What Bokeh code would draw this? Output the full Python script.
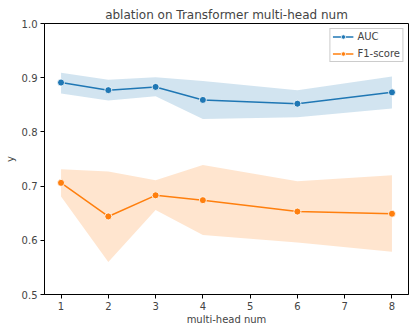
from bokeh.plotting import figure
from bokeh.models import Range1d, FixedTicker, PrintfTickFormatter, Legend, LegendItem
from bokeh.embed import file_html
from bokeh.resources import INLINE

heads = [1, 2, 3, 4, 6, 8]
auc_mean = [0.891, 0.877, 0.883, 0.859, 0.852, 0.873]
auc_low = [0.871, 0.858, 0.866, 0.824, 0.827, 0.843]
auc_high = [0.909, 0.896, 0.901, 0.894, 0.877, 0.902]
f1_mean = [0.706, 0.644, 0.683, 0.674, 0.653, 0.649]
f1_low = [0.681, 0.560, 0.656, 0.610, 0.596, 0.579]
f1_high = [0.731, 0.727, 0.711, 0.739, 0.709, 0.720]
x_ticks = [1, 2, 3, 4, 5, 6, 7, 8]
y_ticks = [0.5, 0.6, 0.7, 0.8, 0.9, 1.0]

BLUE = "#1f77b4"
ORANGE = "#ff7f0e"
FONT = "DejaVu Sans"

p = figure(frame_width=364, frame_height=271, output_backend="svg", toolbar_location=None,
           x_range=Range1d(0.65, 8.35), y_range=Range1d(0.5, 1.0),
           title="ablation on Transformer multi-head num",
           min_border_left=44, min_border_right=7, min_border_top=23, min_border_bottom=38)

p.title.align = "center"
p.title.text_font = FONT
p.title.text_font_size = "12px"
p.title.text_font_style = "normal"
p.title.standoff = 4
p.title.offset = 0

p.xgrid.visible = False
p.ygrid.visible = False
p.outline_line_color = "black"
p.outline_line_width = 1

for ax in (p.xaxis[0], p.yaxis[0]):
    ax.major_label_text_font = FONT
    ax.major_label_text_font_size = "10px"
    ax.axis_label_text_font = FONT
    ax.axis_label_text_font_size = "10px"
    ax.axis_label_text_font_style = "normal"
    ax.major_tick_in = 0
    ax.major_tick_out = 4
    ax.minor_tick_line_color = None
    ax.major_label_standoff = 3
    ax.axis_label_standoff = 3
p.xaxis[0].axis_label_standoff = 1

p.xaxis.ticker = FixedTicker(ticks=x_ticks)
p.yaxis.ticker = FixedTicker(ticks=y_ticks)
p.yaxis.formatter = PrintfTickFormatter(format="%.1f")
p.xaxis.axis_label = "multi-head num"
p.yaxis.axis_label = "y"

p.varea(x=heads, y1=auc_low, y2=auc_high, fill_color=BLUE, fill_alpha=0.2)
p.varea(x=heads, y1=f1_low, y2=f1_high, fill_color=ORANGE, fill_alpha=0.2)

l1 = p.line(heads, auc_mean, line_color=BLUE, line_width=1.5)
s1 = p.scatter(heads, auc_mean, size=7, fill_color=BLUE, line_color="white", line_width=0.8)
l2 = p.line(heads, f1_mean, line_color=ORANGE, line_width=1.5)
s2 = p.scatter(heads, f1_mean, size=7, fill_color=ORANGE, line_color="white", line_width=0.8)

legend = Legend(items=[LegendItem(label="AUC", renderers=[l1, s1]),
                       LegendItem(label="F1-score", renderers=[l2, s2])],
                location="top_right")
legend.label_text_font = FONT
legend.label_text_font_size = "10px"
legend.border_line_color = "#cccccc"
legend.border_line_alpha = 1
legend.background_fill_alpha = 0.8
legend.glyph_width = 21
legend.glyph_height = 11
legend.label_height = 11
legend.spacing = 6
legend.padding = 2
legend.margin = 5
legend.label_standoff = 4
p.add_layout(legend)

open("out.html", "w").write(file_html(p, INLINE))
